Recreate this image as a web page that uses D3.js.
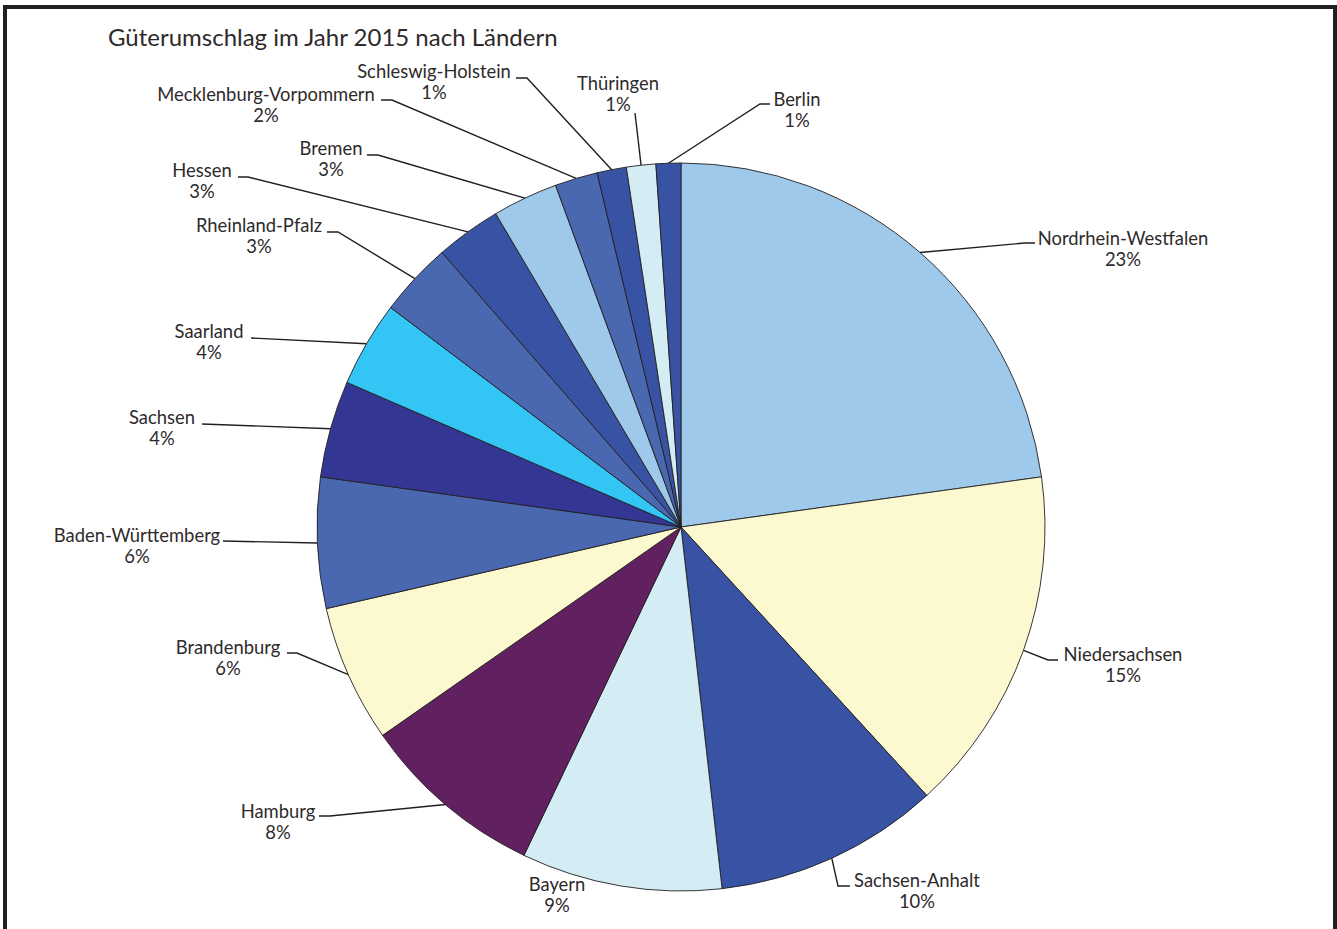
<!DOCTYPE html>
<html lang="de">
<head>
<meta charset="utf-8">
<title>Güterumschlag im Jahr 2015 nach Ländern</title>
<script src="https://cdn.jsdelivr.net/npm/d3@7"></script>
<style>
  html, body { margin: 0; padding: 0; background: #fff; }
  svg { display: block; }
  text { font-family: Lato, "Open Sans", sans-serif; fill: #2e2a2b; }
</style>
</head>
<body>
<svg id="chart" width="1337" height="929"></svg>
<script>
// Güterumschlag 2015, Anteile der Länder in Prozent (im Uhrzeigersinn ab 12 Uhr)
const laender = [
  "Nordrhein-Westfalen", "Niedersachsen", "Sachsen-Anhalt", "Bayern",
  "Hamburg", "Brandenburg", "Baden-Württemberg", "Sachsen", "Saarland",
  "Rheinland-Pfalz", "Hessen", "Bremen", "Mecklenburg-Vorpommern",
  "Schleswig-Holstein", "Thüringen", "Berlin"
];
const anteile = [22.8, 15.4, 10.0, 8.9, 8.2, 6.1, 5.8, 4.3, 3.8, 3.3, 2.9, 2.9, 1.9, 1.3, 1.3, 1.1];
const farben = [
  "#9fc9ea", "#fcf9d0", "#3853a3", "#d4ecf4", "#612161", "#fcf9d0",
  "#4a68b0", "#333793", "#33c5f3", "#4a68b0", "#3853a3", "#9fc9ea",
  "#4a68b0", "#3853a3", "#d4ecf4", "#3853a3"
];
const titel = "Güterumschlag im Jahr 2015 nach Ländern";

// Beschriftungslayout: Textmitte, Grundlinie, Knickpunkte der Führungslinie
const beschriftung = [
  { x: 1123, y: 245, pfad: [[1025, 243], [1035, 243]] },
  { x: 1123, y: 661, pfad: [[1048, 660], [1058, 660]] },
  { x: 917,  y: 887, pfad: [[838, 886], [850, 886]] },
  { x: 557,  y: 891, pfad: null },
  { x: 278,  y: 818, pfad: [[330, 816], [319, 816]] },
  { x: 228,  y: 654, pfad: [[297, 653], [287, 653]] },
  { x: 137,  y: 542, pfad: [[223, 541]] },
  { x: 162,  y: 424, pfad: [[202, 424]] },
  { x: 209,  y: 338, pfad: [[251, 338]] },
  { x: 259,  y: 232, pfad: [[338, 232], [327, 232]] },
  { x: 202,  y: 177, pfad: [[248, 177], [238, 177]] },
  { x: 331,  y: 155, pfad: [[378, 155], [367, 155]] },
  { x: 266,  y: 101, pfad: [[392, 100], [381, 100]] },
  { x: 434,  y: 78,  pfad: [[527, 78], [516, 78]] },
  { x: 618,  y: 90,  pfad: [[635, 113]] },
  { x: 797,  y: 106, pfad: [[760, 104], [770, 104]] }
];

const svg = d3.select("#chart");
const cx = 681, cy = 527, radius = 364;

// Rahmen
svg.append("rect")
  .attr("x", 5).attr("y", 7)
  .attr("width", 1330).attr("height", 940)
  .attr("fill", "none")
  .attr("stroke", "#231f20")
  .attr("stroke-width", 4);

// Titel
svg.append("text")
  .attr("x", 108).attr("y", 46)
  .style("font-size", "24px")
  .text(titel);

const daten = laender.map((name, i) => ({ name, wert: anteile[i], farbe: farben[i], lab: beschriftung[i] }));

const pie = d3.pie().sort(null).value(d => d.wert);
const arc = d3.arc().innerRadius(0).outerRadius(radius);
const boegen = pie(daten);

const g = svg.append("g").attr("transform", `translate(${cx},${cy})`);

g.selectAll("path.segment")
  .data(boegen)
  .join("path")
  .attr("class", "segment")
  .attr("d", arc)
  .attr("fill", d => d.data.farbe)
  .attr("stroke", "#231f20")
  .attr("stroke-width", 0.9)
  .attr("stroke-linejoin", "round");

// Führungslinien vom Kreisrand (Segmentmitte) zur Beschriftung
const linie = d3.line();
svg.append("g").selectAll("path.fuehrung")
  .data(boegen.filter(d => d.data.lab.pfad))
  .join("path")
  .attr("class", "fuehrung")
  .attr("fill", "none")
  .attr("stroke", "#231f20")
  .attr("stroke-width", 1.4)
  .attr("d", d => {
    const mitte = (d.startAngle + d.endAngle) / 2;
    const rand = [cx + radius * Math.sin(mitte), cy - radius * Math.cos(mitte)];
    return linie([rand, ...d.data.lab.pfad]);
  });

// Beschriftungen: Name und gerundeter Anteil
const fmt = v => `${Math.round(v)}%`;
const labels = svg.append("g").selectAll("g.label")
  .data(boegen)
  .join("g")
  .attr("class", "label");

labels.append("text")
  .attr("x", d => d.data.lab.x)
  .attr("y", d => d.data.lab.y)
  .attr("text-anchor", "middle")
  .style("font-size", "18.4px")
  .text(d => d.data.name);

labels.append("text")
  .attr("x", d => d.data.lab.x)
  .attr("y", d => d.data.lab.y + 21)
  .attr("text-anchor", "middle")
  .style("font-size", "18.4px")
  .text(d => fmt(d.data.wert));
</script>
</body>
</html>
